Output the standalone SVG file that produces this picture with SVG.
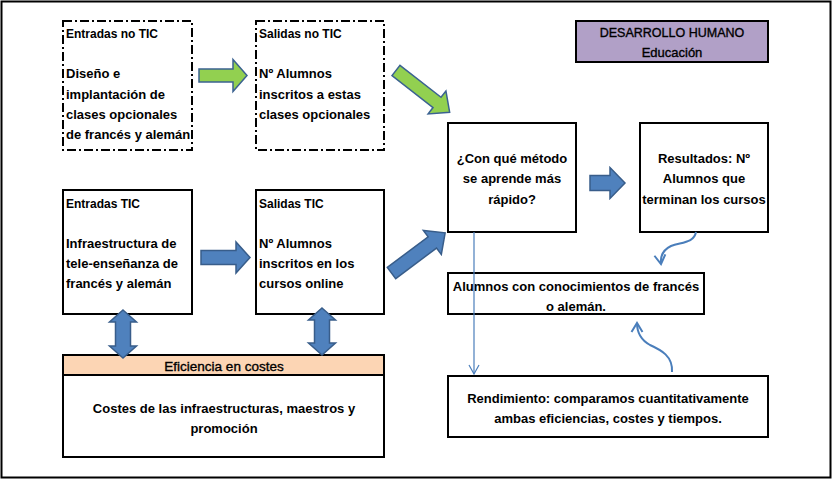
<svg xmlns="http://www.w3.org/2000/svg" width="834" height="481" viewBox="0 0 834 481">
<style>
text{font-family:"Liberation Sans",Arial,sans-serif;fill:#000}
.t{font-size:12px;font-weight:bold}
.b{font-size:13px;font-weight:bold}
.r{font-size:12.5px;stroke:#000;stroke-width:0.35}
.c{text-anchor:middle}
.box{fill:#fff;stroke:#000;stroke-width:2}
.dash{fill:#fff;stroke:#000;stroke-width:2;stroke-dasharray:9 3 2 3}
.blue{fill:#4F81BD;stroke:#385D8A;stroke-width:1.5}
.green{fill:#92D050;stroke:#3B6291;stroke-width:1.5}
.thin{fill:none;stroke:#4A7EBB;stroke-width:1.2}
.curve{fill:none;stroke:#4A7EBB;stroke-width:2}
</style>
<defs>
<marker id="v1" markerWidth="12" markerHeight="12" refX="10" refY="6" orient="auto" markerUnits="userSpaceOnUse"><path d="M1,1 L10,6 L1,11" fill="none" stroke="#4A7EBB" stroke-width="1.2"/></marker>
<marker id="v2" markerWidth="14" markerHeight="14" refX="11" refY="7" orient="auto" markerUnits="userSpaceOnUse"><path d="M2,1.5 L11,7 L2,12.5" fill="none" stroke="#4A7EBB" stroke-width="2"/></marker>
</defs>
<rect x="1.5" y="1.5" width="829" height="476" fill="#fff" stroke="#000" stroke-width="2"/>

<g id="entradas-no-tic">
<rect class="dash" x="63" y="21" width="129" height="129"/>
<text class="t" x="66" y="37.5">Entradas no TIC</text>
<text class="b" x="66" y="78">Diseño e</text>
<text class="b" x="66" y="98.5">implantación de</text>
<text class="b" x="66" y="118.5">clases opcionales</text>
<text class="b" x="66" y="138.5">de francés y alemán</text>
</g>
<g id="salidas-no-tic">
<rect class="dash" x="256" y="21" width="128" height="129"/>
<text class="t" x="259" y="37.5">Salidas no TIC</text>
<text class="b" x="259" y="78">Nº Alumnos</text>
<text class="b" x="259" y="98.5">inscritos a estas</text>
<text class="b" x="259" y="118.5">clases opcionales</text>
</g>
<g id="entradas-tic">
<rect class="box" x="63" y="190" width="129" height="124"/>
<text class="t" x="66" y="207.5">Entradas TIC</text>
<text class="b" x="66" y="247.5">Infraestructura de</text>
<text class="b" x="66" y="267.5">tele-enseñanza de</text>
<text class="b" x="66" y="287.5">francés y alemán</text>
</g>
<g id="salidas-tic">
<rect class="box" x="256" y="190" width="128" height="124"/>
<text class="t" x="259" y="207.5">Salidas TIC</text>
<text class="b" x="259" y="247.5">Nº Alumnos</text>
<text class="b" x="259" y="267.5">inscritos en los</text>
<text class="b" x="259" y="287.5">cursos online</text>
</g>
<g id="desarrollo">
<rect x="576" y="21" width="192" height="41" fill="#B1A0C7" stroke="#000" stroke-width="2"/>
<text class="r c" x="672" y="36.5">DESARROLLO HUMANO</text>
<text class="r c" x="672" y="56.5" style="font-size:13px">Educación</text>
</g>
<g id="metodo">
<rect class="box" x="448" y="123" width="128" height="109"/>
<text class="b c" x="512" y="162.5">¿Con qué método</text>
<text class="b c" x="512" y="182.5">se aprende más</text>
<text class="b c" x="512" y="203.5">rápido?</text>
</g>
<g id="resultados">
<rect class="box" x="640" y="123" width="128" height="109"/>
<text class="b c" x="704" y="162.5">Resultados: Nº</text>
<text class="b c" x="704" y="182.5">Alumnos que</text>
<text class="b c" x="704" y="203.5">terminan los cursos</text>
</g>
<g id="alumnos">
<rect class="box" x="448" y="273" width="256" height="41"/>
<text class="b c" x="576" y="290.5">Alumnos con conocimientos de francés</text>
<text class="b c" x="576" y="310.5">o alemán.</text>
</g>
<g id="rendimiento">
<rect class="box" x="448" y="376" width="320" height="61"/>
<text class="b c" x="608" y="402.5">Rendimiento: comparamos cuantitativamente</text>
<text class="b c" x="608" y="422.5">ambas eficiencias, costes y tiempos.</text>
</g>
<g id="eficiencia">
<rect class="box" x="63" y="355" width="321" height="102"/>
<rect x="63" y="355" width="321" height="20" fill="#FCD5B4" stroke="#000" stroke-width="2"/>
<text class="r c" x="224" y="370.5" style="font-size:13.5px">Eficiencia en costes</text>
<text class="b c" x="224" y="412.5">Costes de las infraestructuras, maestros y</text>
<text class="b c" x="224" y="432.5">promoción</text>
</g>

<g id="connectors">
<path class="green" transform="translate(199,75.5)" d="M0,-6.5 H34 V-16 L48,0 L34,16 V6.5 H0 Z"/>
<path class="green" transform="translate(396,70.5) rotate(37.9)" d="M0,-6.5 H52 V-14.5 L68,0 L52,14.5 V6.5 H0 Z"/>
<path class="blue" transform="translate(201,257.5)" d="M0,-7 H35 V-15.5 L49,0 L35,15.5 V7 H0 Z"/>
<path class="blue" transform="translate(391.5,273) rotate(-36.8)" d="M0,-7 H51 V-15 L67,0 L51,15 V7 H0 Z"/>
<path class="blue" transform="translate(590,183)" d="M0,-7.5 H20 V-15.5 L35,0 L20,15.5 V7.5 H0 Z"/>
<path class="blue" transform="translate(123,310)" d="M0,0 L13.5,12 H7.5 V36 H13.5 L0,48 L-13.5,36 H-7.5 V12 H-13.5 Z"/>
<path class="blue" transform="translate(322,308)" d="M0,0 L13.5,12 H7.5 V35 H13.5 L0,47 L-13.5,35 H-7.5 V12 H-13.5 Z"/>
<path class="thin" d="M474,232 V374" marker-end="url(#v1)"/>
<path class="curve" d="M696,232 C694,243 682,242 671,246 C663,250 660,256 661,264" marker-end="url(#v2)"/>
<path class="curve" d="M672,372 C673,356 661,350 650,345 C641,340 637,333 637,323" marker-end="url(#v2)"/>
</g>
</svg>
